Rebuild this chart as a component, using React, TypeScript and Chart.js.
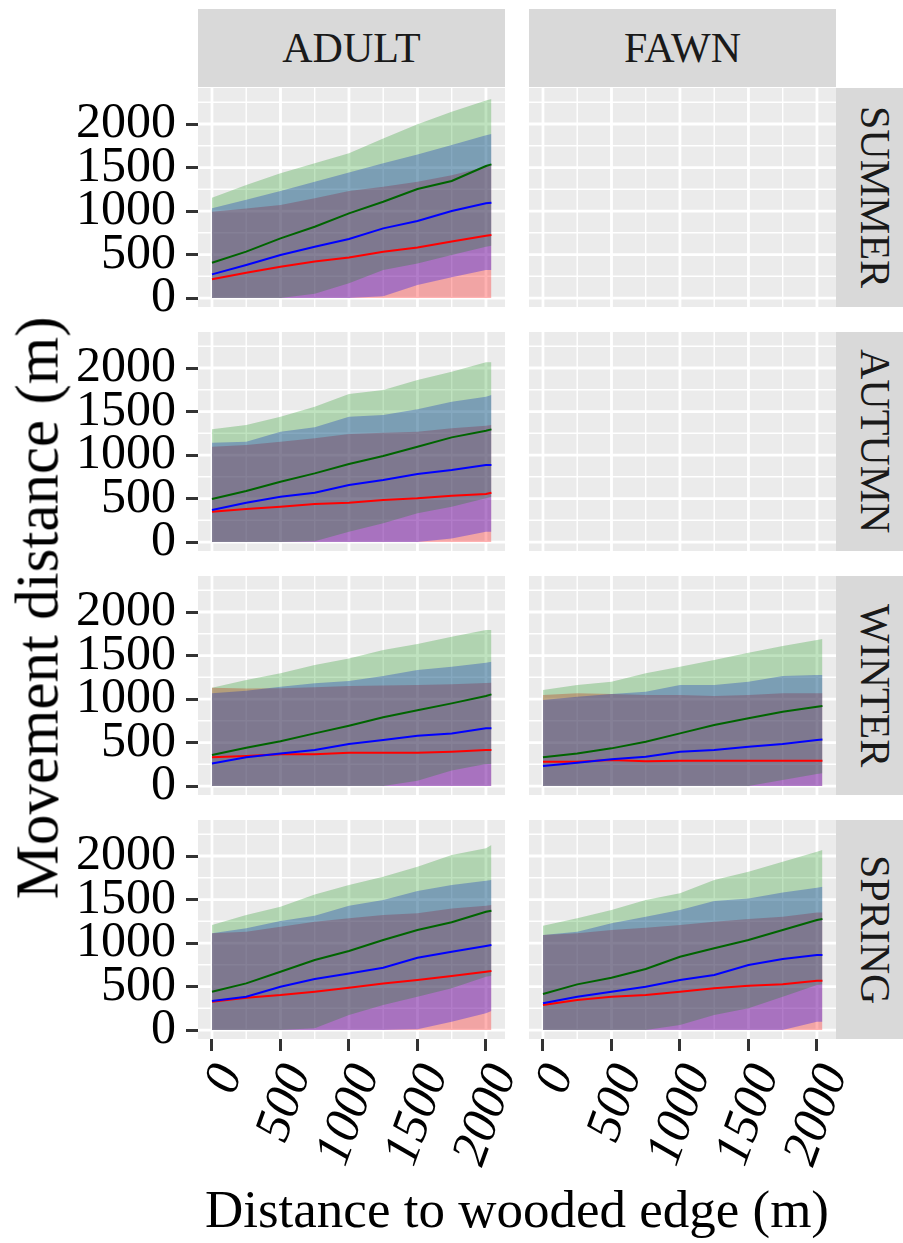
import React, { useEffect, useRef } from "react";
import { Chart, registerables } from "chart.js";

Chart.register(...registerables);

// ---------- categories / ticks ----------
const ageClasses = ["ADULT", "FAWN"];
const seasons = ["SUMMER", "AUTUMN", "WINTER", "SPRING"];
const distance = [0, 250, 500, 750, 1000, 1250, 1500, 1750, 2000, 2040];
const xTicks = [0, 500, 1000, 1500, 2000];
const xMinorBreaks = [250, 750, 1250, 1750];
const yTicks = [0, 500, 1000, 1500, 2000];
const yMinorBreaks = [250, 750, 1250, 1750, 2250];
const xTitle = "Distance to wooded edge (m)";
const yTitle = "Movement distance (m)";

// ---------- ADULT / SUMMER ----------
const adultSummerRedLow = [0, 0, 0, 0, 0, 0, 0, 0, 0, 0];
const adultSummerRedLine = [215, 290, 360, 420, 467, 533, 582, 650, 715, 724];
const adultSummerRedHigh = [992, 1030, 1069, 1146, 1230, 1280, 1337, 1410, 1510, 1529];
const adultSummerBlueLow = [0, 0, 0, 0, 0, 20, 150, 240, 322, 322];
const adultSummerBlueLine = [272, 380, 494, 590, 678, 801, 885, 1000, 1090, 1096];
const adultSummerBlueHigh = [1031, 1130, 1230, 1337, 1444, 1548, 1651, 1759, 1870, 1885];
const adultSummerGreenLow = [0, 0, 0, 50, 169, 322, 398, 494, 590, 602];
const adultSummerGreenLine = [406, 533, 686, 820, 973, 1107, 1253, 1345, 1517, 1536];
const adultSummerGreenHigh = [1153, 1299, 1433, 1548, 1663, 1835, 1996, 2142, 2270, 2287];

// ---------- ADULT / AUTUMN ----------
const adultAutumnRedLow = [0, 0, 0, 0, 0, 0, 0, 0, 0, 0];
const adultAutumnRedLine = [349, 379, 406, 437, 452, 483, 502, 533, 552, 567];
const adultAutumnRedHigh = [1096, 1115, 1153, 1192, 1241, 1257, 1268, 1307, 1337, 1345];
const adultAutumnBlueLow = [0, 0, 0, 0, 0, 0, 0, 42, 119, 119];
const adultAutumnBlueLine = [368, 452, 521, 567, 655, 713, 782, 828, 885, 885];
const adultAutumnBlueHigh = [1142, 1153, 1268, 1318, 1441, 1460, 1525, 1613, 1670, 1690];
const adultAutumnGreenLow = [0, 0, 0, 10, 119, 215, 330, 406, 502, 521];
const adultAutumnGreenLine = [494, 586, 693, 789, 897, 989, 1096, 1203, 1280, 1295];
const adultAutumnGreenHigh = [1295, 1345, 1441, 1556, 1700, 1747, 1862, 1958, 2065, 2065];

// ---------- ADULT / WINTER ----------
const adultWinterRedLow = [0, 0, 0, 0, 0, 0, 0, 0, 0, 0];
const adultWinterRedLine = [330, 345, 364, 364, 383, 383, 383, 395, 414, 414];
const adultWinterRedHigh = [1130, 1120, 1123, 1135, 1149, 1155, 1161, 1170, 1185, 1188];
const adultWinterBlueLow = [0, 0, 0, 0, 0, 0, 0, 0, 0, 0];
const adultWinterBlueLine = [260, 330, 375, 414, 483, 529, 579, 605, 663, 663];
const adultWinterBlueHigh = [1065, 1096, 1142, 1180, 1207, 1264, 1333, 1372, 1418, 1429];
const adultWinterGreenLow = [0, 0, 0, 0, 0, 0, 60, 180, 253, 253];
const adultWinterGreenLine = [356, 440, 515, 605, 693, 790, 870, 950, 1034, 1054];
const adultWinterGreenHigh = [1130, 1218, 1295, 1391, 1467, 1563, 1632, 1716, 1793, 1793];

// ---------- FAWN / WINTER ----------
const fawnWinterRedLow = [0, 0, 0, 0, 0, 0, 0, 0, 0, 0];
const fawnWinterRedLine = [280, 280, 299, 284, 291, 291, 291, 291, 291, 291];
const fawnWinterRedHigh = [1046, 1065, 1057, 1046, 1046, 1034, 1046, 1065, 1065, 1065];
const fawnWinterBlueLow = [0, 0, 0, 0, 0, 0, 0, 0, 0, 0];
const fawnWinterBlueLine = [230, 268, 307, 337, 395, 414, 452, 483, 529, 536];
const fawnWinterBlueHigh = [989, 1027, 1057, 1084, 1161, 1161, 1199, 1264, 1276, 1276];
const fawnWinterGreenLow = [0, 0, 0, 0, 0, 0, 0, 69, 138, 146];
const fawnWinterGreenLine = [330, 375, 433, 510, 605, 701, 778, 854, 912, 920];
const fawnWinterGreenHigh = [1103, 1161, 1199, 1295, 1372, 1448, 1533, 1609, 1678, 1690];

// ---------- ADULT / SPRING ----------
const adultSpringRedLow = [0, 0, 0, 0, 0, 0, 0, 0, 0, 0];
const adultSpringRedLine = [326, 372, 402, 441, 487, 536, 575, 621, 670, 678];
const adultSpringRedHigh = [1111, 1130, 1188, 1245, 1284, 1322, 1341, 1398, 1429, 1437];
const adultSpringBlueLow = [0, 0, 0, 0, 0, 0, 10, 96, 192, 218];
const adultSpringBlueLine = [333, 383, 498, 586, 651, 716, 831, 900, 966, 977];
const adultSpringBlueHigh = [1111, 1169, 1253, 1314, 1429, 1494, 1598, 1667, 1716, 1724];
const adultSpringGreenLow = [0, 0, 0, 20, 172, 287, 383, 479, 613, 625];
const adultSpringGreenLine = [441, 536, 670, 805, 908, 1034, 1149, 1238, 1360, 1372];
const adultSpringGreenHigh = [1207, 1322, 1418, 1559, 1667, 1762, 1877, 2011, 2088, 2126];

// ---------- FAWN / SPRING ----------
const fawnSpringRedLow = [0, 0, 0, 0, 0, 0, 0, 0, 0, 0];
const fawnSpringRedLine = [287, 345, 383, 402, 441, 479, 510, 525, 567, 567];
const fawnSpringRedHigh = [1092, 1111, 1149, 1176, 1207, 1245, 1276, 1303, 1352, 1352];
const fawnSpringBlueLow = [0, 0, 0, 0, 0, 0, 0, 0, 96, 96];
const fawnSpringBlueLine = [307, 383, 441, 498, 575, 632, 747, 816, 862, 862];
const fawnSpringBlueHigh = [1092, 1130, 1226, 1303, 1379, 1483, 1513, 1582, 1636, 1648];
const fawnSpringGreenLow = [0, 0, 0, 0, 57, 172, 249, 383, 517, 525];
const fawnSpringGreenLine = [414, 525, 602, 701, 843, 939, 1034, 1149, 1264, 1276];
const fawnSpringGreenHigh = [1199, 1284, 1379, 1494, 1571, 1724, 1820, 1935, 2050, 2069];

// ---------- styling ----------
const FONT = "'Liberation Serif', 'Times New Roman', serif";
const SERIES_STYLE = [
  { line: "#FF0000", fill: "rgba(255,0,0,0.3)" },
  { line: "#0000FF", fill: "rgba(0,0,255,0.3)" },
  { line: "#006400", fill: "rgba(0,140,0,0.25)" },
];

type Ribbon = { low: number[]; line: number[]; high: number[] };

const panelData: (Ribbon[] | null)[][] = [
  [
    [
      { low: adultSummerRedLow, line: adultSummerRedLine, high: adultSummerRedHigh },
      { low: adultSummerBlueLow, line: adultSummerBlueLine, high: adultSummerBlueHigh },
      { low: adultSummerGreenLow, line: adultSummerGreenLine, high: adultSummerGreenHigh },
    ],
    null,
  ],
  [
    [
      { low: adultAutumnRedLow, line: adultAutumnRedLine, high: adultAutumnRedHigh },
      { low: adultAutumnBlueLow, line: adultAutumnBlueLine, high: adultAutumnBlueHigh },
      { low: adultAutumnGreenLow, line: adultAutumnGreenLine, high: adultAutumnGreenHigh },
    ],
    null,
  ],
  [
    [
      { low: adultWinterRedLow, line: adultWinterRedLine, high: adultWinterRedHigh },
      { low: adultWinterBlueLow, line: adultWinterBlueLine, high: adultWinterBlueHigh },
      { low: adultWinterGreenLow, line: adultWinterGreenLine, high: adultWinterGreenHigh },
    ],
    [
      { low: fawnWinterRedLow, line: fawnWinterRedLine, high: fawnWinterRedHigh },
      { low: fawnWinterBlueLow, line: fawnWinterBlueLine, high: fawnWinterBlueHigh },
      { low: fawnWinterGreenLow, line: fawnWinterGreenLine, high: fawnWinterGreenHigh },
    ],
  ],
  [
    [
      { low: adultSpringRedLow, line: adultSpringRedLine, high: adultSpringRedHigh },
      { low: adultSpringBlueLow, line: adultSpringBlueLine, high: adultSpringBlueHigh },
      { low: adultSpringGreenLow, line: adultSpringGreenLine, high: adultSpringGreenHigh },
    ],
    [
      { low: fawnSpringRedLow, line: fawnSpringRedLine, high: fawnSpringRedHigh },
      { low: fawnSpringBlueLow, line: fawnSpringBlueLine, high: fawnSpringBlueHigh },
      { low: fawnSpringGreenLow, line: fawnSpringGreenLine, high: fawnSpringGreenHigh },
    ],
  ],
];

// ---------- layout ----------
const COL_LEFT = [198, 529];
const PANEL_W = 307;
const ROW_TOP = [88, 332, 576, 820];
const PANEL_H = 219;
const X_MIN = -102;
const X_MAX = 2139;
const Y_MIN = -103;
const Y_MAX = 2414;
const X_AXIS_H = 150;
const LABEL_OVERHANG = 24;
const LABEL_OVERHANG_RIGHT = 24;

const bgPlugin = {
  id: "panelBg",
  beforeDraw(chart: any) {
    const { ctx, chartArea: a, scales } = chart;
    const x = scales.x;
    const y = scales.y;
    ctx.save();
    ctx.fillStyle = "#EBEBEB";
    ctx.fillRect(a.left, a.top, a.right - a.left, a.bottom - a.top);
    ctx.strokeStyle = "#FFFFFF";
    const vline = (v: number) => {
      const px = x.getPixelForValue(v);
      ctx.beginPath();
      ctx.moveTo(px, a.top);
      ctx.lineTo(px, a.bottom);
      ctx.stroke();
    };
    const hline = (v: number) => {
      const py = y.getPixelForValue(v);
      ctx.beginPath();
      ctx.moveTo(a.left, py);
      ctx.lineTo(a.right, py);
      ctx.stroke();
    };
    ctx.lineWidth = 1.4;
    xMinorBreaks.forEach(vline);
    yMinorBreaks.forEach(hline);
    ctx.lineWidth = 2.8;
    xTicks.forEach(vline);
    yTicks.forEach(hline);
    ctx.restore();
  },
};

function Panel({ row, col }: { row: number; col: number }) {
  const ref = useRef<HTMLCanvasElement>(null);
  const showY = col === 0;
  const showX = row === 3;
  const axisW = showY ? COL_LEFT[0] : 0;
  const axisH = showX ? X_AXIS_H : 0;
  const extraBottom = showY && !showX ? LABEL_OVERHANG : 0;
  const extraRight = showX ? LABEL_OVERHANG_RIGHT : 0;
  const width = PANEL_W + axisW + extraRight;
  const height = PANEL_H + axisH + extraBottom;
  const left = COL_LEFT[col] - axisW;
  const top = ROW_TOP[row];

  useEffect(() => {
    if (!ref.current) return;
    const ribbons = panelData[row][col];
    const datasets: any[] = [];
    if (ribbons) {
      ribbons.forEach((r, k) => {
        const lowIndex = datasets.length;
        datasets.push({
          data: r.low.map((v, i) => ({ x: distance[i], y: v })),
          borderWidth: 0,
          pointRadius: 0,
          fill: false,
          order: 100 - k * 10 + 1,
        });
        datasets.push({
          data: r.high.map((v, i) => ({ x: distance[i], y: v })),
          borderWidth: 0,
          pointRadius: 0,
          backgroundColor: SERIES_STYLE[k].fill,
          fill: lowIndex,
          order: 100 - k * 10,
        });
      });
      ribbons.forEach((r, k) => {
        datasets.push({
          data: r.line.map((v, i) => ({ x: distance[i], y: v })),
          borderColor: SERIES_STYLE[k].line,
          borderWidth: 2,
          pointRadius: 0,
          fill: false,
          tension: 0,
          order: 5 - k,
        });
      });
    }

    const chart = new Chart(ref.current, {
      type: "line",
      data: { datasets },
      options: {
        animation: false,
        responsive: false,
        devicePixelRatio: 1,
        layout: { padding: { top: 0, left: 0, right: extraRight, bottom: extraBottom } },
        events: [],
        plugins: { legend: { display: false }, tooltip: { enabled: false }, title: { display: false } },
        scales: {
          x: {
            type: "linear",
            min: X_MIN,
            max: X_MAX,
            display: showX,
            afterBuildTicks: (s: any) => {
              s.ticks = xTicks.map((v) => ({ value: v }));
            },
            afterFit: (s: any) => {
              s.height = axisH;
              s.paddingLeft = 0;
              s.paddingRight = 0;
            },
            border: { display: false },
            grid: {
              drawOnChartArea: false,
              drawTicks: true,
              tickLength: 12,
              tickWidth: 3,
              tickColor: "#333333",
              color: "#333333",
            },
            ticks: {
              autoSkip: false,
              minRotation: 70,
              maxRotation: 70,
              padding: 6,
              labelOffset: 18,
              color: "#000000",
              font: { family: FONT, size: 51, style: "italic" },
              callback: (v: any) => String(v),
            },
          },
          y: {
            type: "linear",
            min: Y_MIN,
            max: Y_MAX,
            display: showY,
            afterBuildTicks: (s: any) => {
              s.ticks = yTicks.map((v) => ({ value: v }));
            },
            afterFit: (s: any) => {
              s.width = axisW;
              s.paddingTop = 0;
              s.paddingBottom = 0;
            },
            border: { display: false },
            grid: {
              drawOnChartArea: false,
              drawTicks: true,
              tickLength: 12,
              tickWidth: 3,
              tickColor: "#333333",
              color: "#333333",
            },
            ticks: {
              autoSkip: false,
              padding: 10,
              color: "#000000",
              font: { family: FONT, size: 50 },
              callback: (v: any) => String(v),
            },
          },
        },
      } as any,
      plugins: [bgPlugin],
    });
    return () => chart.destroy();
  }, [row, col]);

  return (
    <canvas
      ref={ref}
      width={width}
      height={height}
      style={{ position: "absolute", left, top, width, height }}
    />
  );
}

export default function App() {
  const stripStyle: React.CSSProperties = {
    position: "absolute",
    background: "#D9D9D9",
    color: "#1A1A1A",
    fontFamily: FONT,
    fontSize: 42,
    display: "flex",
    alignItems: "center",
    justifyContent: "center",
    lineHeight: 1,
  };
  const panels: React.ReactNode[] = [];
  for (let r = 0; r < 4; r++) {
    for (let c = 0; c < 2; c++) {
      panels.push(<Panel key={`${r}-${c}`} row={r} col={c} />);
    }
  }
  return (
    <div
      style={{
        position: "absolute",
        left: 0,
        top: 0,
        width: 903,
        height: 1243,
        overflow: "hidden",
        background: "#FFFFFF",
      }}
    >
      {ageClasses.map((a, c) => (
        <div key={a} style={{ ...stripStyle, left: COL_LEFT[c], top: 9, width: PANEL_W, height: 78 }}>
          {a}
        </div>
      ))}
      {seasons.map((s, r) => (
        <div
          key={s}
          style={{ ...stripStyle, left: 836, top: ROW_TOP[r], width: 78, height: PANEL_H }}
        >
          <span style={{ writingMode: "vertical-rl" }}>{s}</span>
        </div>
      ))}
      {panels}
      <div
        style={{
          position: "absolute",
          left: COL_LEFT[0],
          width: 836 - COL_LEFT[0],
          top: 1178,
          textAlign: "center",
          fontFamily: FONT,
          fontSize: 53,
          color: "#000",
          lineHeight: 1.2,
          whiteSpace: "nowrap",
        }}
      >
        {xTitle}
      </div>
      <div
        style={{
          position: "absolute",
          left: 37,
          top: 608,
          transform: "translate(-50%, -50%) rotate(-90deg)",
          fontFamily: FONT,
          fontSize: 61,
          color: "#000",
          lineHeight: 1,
          whiteSpace: "nowrap",
        }}
      >
        {yTitle}
      </div>
    </div>
  );
}
